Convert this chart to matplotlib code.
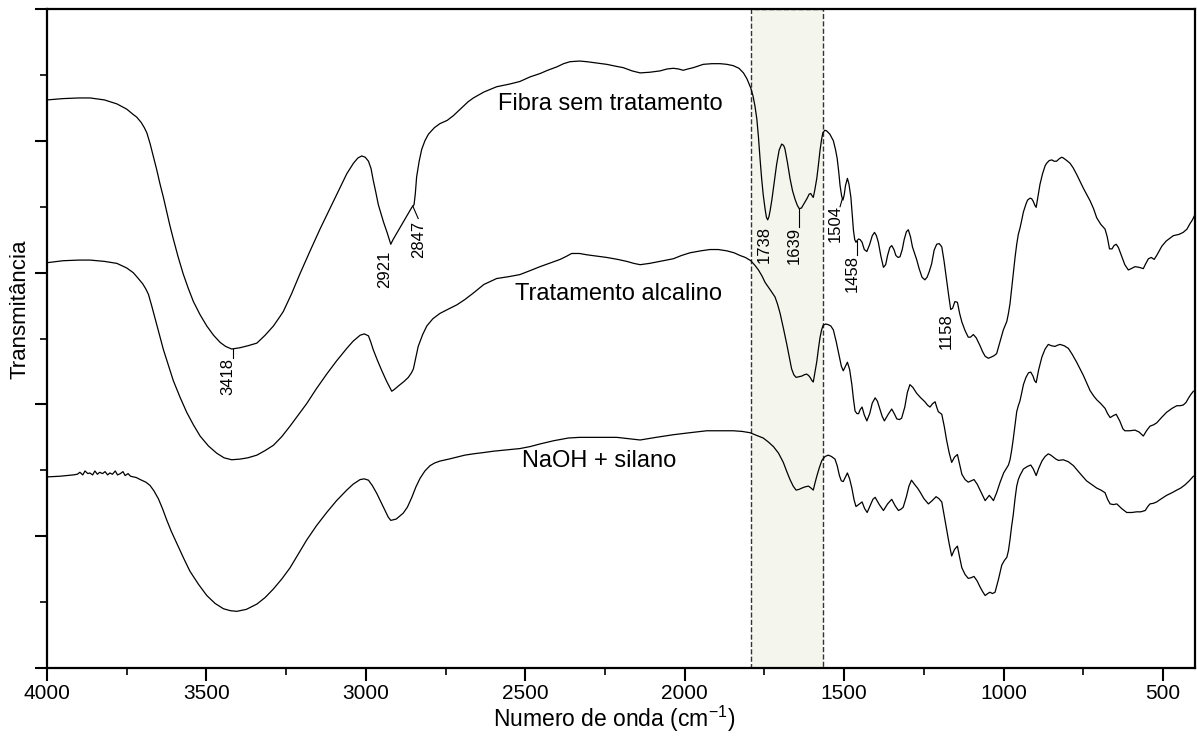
import matplotlib
matplotlib.use('Agg')

import matplotlib.pyplot as plt
from matplotlib.ticker import MultipleLocator, NullFormatter

plt.rcParams['font.family'] = ['Liberation Sans', 'DejaVu Sans']
plt.rcParams['mathtext.default'] = 'regular'

# Fibra sem tratamento (upper spectrum): wavenumber, transmittance (arb. units)
wn_fibra = [4000, 3950, 3900, 3865, 3820, 3781, 3750, 3730, 3719, 3705, 3695, 3687, 3677, 3667,
            3656, 3646, 3635, 3625, 3615, 3604, 3589, 3573, 3557, 3541, 3520, 3499, 3478, 3457,
            3440, 3421, 3395, 3370, 3342, 3316, 3290, 3270, 3259, 3233, 3207, 3175, 3144, 3112,
            3081, 3060, 3039, 3025, 3013, 3002, 2992, 2984, 2977, 2969, 2961, 2945, 2933, 2922,
            2915, 2909, 2893, 2872, 2856, 2849, 2845, 2841, 2833, 2825, 2815, 2804, 2785, 2768,
            2745, 2726, 2700, 2680, 2663, 2630, 2590, 2550, 2517, 2485, 2454, 2430, 2402, 2380,
            2360, 2330, 2307, 2275, 2245, 2215, 2193, 2165, 2140, 2110, 2078, 2055, 2036, 2020,
            2005, 1990, 1973, 1955, 1942, 1915, 1889, 1868, 1848, 1830, 1816, 1805, 1793, 1786,
            1780, 1774, 1769, 1764, 1759, 1754, 1748, 1744, 1740, 1736, 1732, 1727, 1720, 1712,
            1704, 1696, 1690, 1686, 1678, 1670, 1662, 1654, 1647, 1641, 1634, 1628, 1622, 1616,
            1610, 1605, 1600, 1597, 1592, 1586, 1581, 1576, 1571, 1567, 1561, 1555, 1545, 1534,
            1527, 1522, 1517, 1513, 1508, 1504, 1500, 1496, 1490, 1485, 1479, 1475, 1471, 1467,
            1463, 1459, 1455, 1450, 1444, 1437, 1429, 1420, 1412, 1405, 1399, 1393, 1385, 1377,
            1370, 1364, 1357, 1351, 1344, 1338, 1331, 1325, 1318, 1312, 1305, 1299, 1292, 1286,
            1279, 1273, 1265, 1256, 1247, 1240, 1233, 1226, 1218, 1210, 1202, 1194, 1187, 1179,
            1172, 1166, 1160, 1153, 1145, 1138, 1131, 1121, 1111, 1104, 1095, 1086, 1074, 1066,
            1058, 1048, 1038, 1030, 1022, 1012, 1001, 995, 990, 985, 980, 975, 970, 964, 959,
            954, 949, 944, 938, 930, 925, 917, 912, 907, 902, 898, 892, 886, 878, 870, 865, 857,
            849, 842, 834, 825, 818, 813, 802, 792, 782, 771, 760, 750, 740, 729, 718, 708, 695,
            682, 675, 668, 660, 654, 647, 640, 630, 620, 609, 600, 588, 575, 562, 555, 546, 537,
            528, 520, 504, 490, 468, 450, 437, 425, 416, 408, 400]
t_fibra = [86.2, 86.4, 86.5, 86.5, 86.2, 85.6, 84.8, 84.0, 83.6, 82.8, 82.0, 81.2, 79.6, 77.7,
           75.6, 73.5, 71.4, 69.3, 67.2, 65.1, 62.4, 59.8, 57.6, 55.6, 53.6, 51.9, 50.5, 49.4,
           48.8, 48.4, 48.6, 48.9, 49.3, 50.5, 51.9, 53.3, 54.1, 56.8, 59.8, 63.3, 66.6, 69.8,
           72.9, 75.0, 76.6, 77.4, 77.7, 77.5, 76.9, 75.8, 74.0, 72.2, 70.3, 67.7, 66.0, 64.3,
           65.0, 65.5, 66.8, 68.6, 69.9, 70.3, 72.0, 74.5, 76.9, 78.7, 80.0, 81.0, 82.0, 82.6,
           83.1, 83.8, 85.0, 85.9, 86.5, 87.4, 88.2, 88.6, 89.0, 89.7, 90.2, 90.7, 91.2, 91.7,
           92.0, 92.1, 92.0, 91.8, 91.6, 91.3, 91.1, 90.6, 90.3, 90.4, 90.6, 90.9, 91.0, 90.9,
           90.7, 90.9, 91.1, 91.4, 91.6, 91.7, 91.7, 91.6, 91.4, 91.0, 90.3, 89.4, 88.0, 86.8,
           85.3, 83.3, 80.6, 77.3, 74.3, 71.8, 69.6, 68.4, 68.0, 68.5, 69.5, 71.0, 73.5, 76.4,
           78.6, 79.5, 79.3, 78.8, 76.7, 74.3, 72.4, 71.1, 70.2, 69.7, 69.8, 70.3, 70.8, 71.3,
           71.9, 72.0, 71.6, 71.4, 72.6, 74.3, 76.3, 78.5, 80.2, 81.2, 81.6, 81.5, 81.0, 80.0,
           78.6, 77.3, 75.2, 73.2, 71.6, 71.0, 71.8, 73.2, 74.3, 73.4, 71.4, 68.8, 66.4, 65.0,
           64.6, 64.9, 65.1, 65.0, 64.6, 63.5, 63.2, 64.3, 65.6, 66.1, 65.6, 64.6, 62.5, 60.8,
           61.2, 62.6, 63.8, 64.1, 63.5, 62.6, 62.3, 62.4, 63.5, 65.0, 66.2, 66.5, 65.4, 63.9,
           62.9, 62.0, 60.6, 59.3, 58.9, 59.3, 60.2, 61.3, 63.4, 64.3, 64.4, 63.9, 61.8, 58.9,
           56.4, 54.4, 54.6, 55.6, 55.5, 53.8, 52.5, 51.2, 50.2, 50.2, 50.6, 50.1, 48.9, 48.0,
           47.3, 47.0, 47.2, 47.4, 47.7, 49.4, 51.3, 52.0, 52.6, 53.8, 55.3, 57.5, 59.6, 62.4,
           64.3, 65.8, 66.7, 67.8, 69.2, 70.4, 71.0, 71.3, 71.2, 70.8, 70.2, 69.9, 71.7, 73.4,
           75.0, 76.2, 76.6, 77.0, 77.1, 76.9, 76.9, 77.3, 77.5, 77.4, 77.0, 76.6, 75.9, 74.9,
           73.8, 72.8, 71.9, 70.9, 69.7, 68.3, 67.3, 66.6, 65.4, 63.6, 63.6, 64.1, 64.3, 63.8,
           62.5, 61.2, 60.4, 60.6, 60.9, 60.8, 60.6, 61.3, 62.1, 62.3, 62.0, 62.6, 64.0, 64.8,
           65.6, 65.8, 66.1, 66.6, 67.4, 68.0, 68.8]

# Tratamento alcalino (middle spectrum)
wn_alcalino = [4000, 3950, 3900, 3865, 3820, 3781, 3750, 3730, 3719, 3700, 3690, 3682, 3672, 3661,
               3648, 3635, 3620, 3604, 3583, 3562, 3541, 3520, 3494, 3468, 3445, 3421, 3395, 3370,
               3342, 3316, 3290, 3264, 3238, 3212, 3186, 3155, 3123, 3092, 3060, 3040, 3018, 3005,
               2992, 2985, 2977, 2964, 2950, 2935, 2919, 2910, 2898, 2880, 2867, 2857, 2851, 2844,
               2836, 2822, 2809, 2790, 2768, 2740, 2715, 2690, 2663, 2630, 2590, 2550, 2517, 2485,
               2454, 2420, 2391, 2370, 2355, 2330, 2307, 2275, 2245, 2210, 2182, 2160, 2140, 2110,
               2078, 2055, 2036, 2010, 1984, 1950, 1921, 1895, 1868, 1845, 1827, 1810, 1793, 1780,
               1769, 1758, 1748, 1738, 1728, 1717, 1709, 1701, 1690, 1680, 1672, 1665, 1658, 1651,
               1642, 1633, 1625, 1618, 1612, 1607, 1601, 1597, 1592, 1586, 1581, 1576, 1571, 1566,
               1558, 1550, 1542, 1534, 1525, 1515, 1509, 1503, 1497, 1490, 1483, 1476, 1471, 1466,
               1460, 1455, 1450, 1444, 1437, 1429, 1420, 1412, 1403, 1396, 1388, 1381, 1374, 1362,
               1351, 1343, 1335, 1327, 1320, 1310, 1302, 1294, 1285, 1273, 1260, 1247, 1239, 1231,
               1223, 1215, 1210, 1205, 1194, 1186, 1179, 1171, 1163, 1154, 1145, 1138, 1131, 1121,
               1111, 1102, 1093, 1083, 1074, 1066, 1058, 1050, 1045, 1038, 1032, 1022, 1011, 1000,
               990, 985, 980, 975, 970, 964, 959, 954, 949, 944, 938, 930, 922, 915, 908, 903, 898,
               890, 880, 870, 860, 850, 839, 830, 823, 810, 797, 785, 771, 750, 729, 718, 708, 695,
               682, 674, 666, 656, 647, 636, 626, 620, 605, 588, 575, 562, 552, 541, 530, 520, 505,
               489, 472, 457, 447, 437, 428, 421, 413, 405]
t_alcalino = [61.5, 61.8, 61.9, 61.9, 61.7, 61.4, 60.7, 60.0, 59.4, 58.3, 57.5, 56.7, 55.0, 53.0,
              50.6, 48.3, 46.0, 43.6, 41.1, 38.8, 36.9, 35.2, 33.7, 32.6, 31.9, 31.6, 31.7, 31.9,
              32.3, 33.0, 33.8, 35.1, 36.7, 38.4, 40.1, 42.4, 44.6, 46.6, 48.5, 49.6, 50.5, 50.7,
              50.4, 49.5, 48.3, 46.7, 45.1, 43.5, 42.0, 42.3, 42.8, 43.5, 44.1, 44.8, 45.4, 47.0,
              48.8, 50.6, 51.9, 53.0, 53.8, 54.5, 55.1, 55.9, 56.9, 58.2, 59.1, 59.4, 59.7, 60.3,
              60.9, 61.5, 62.0, 62.5, 62.9, 62.9, 62.7, 62.5, 62.3, 62.0, 61.7, 61.4, 61.2, 61.4,
              61.7, 61.9, 62.1, 62.6, 63.0, 63.3, 63.5, 63.5, 63.3, 63.0, 62.6, 62.3, 61.8, 61.1,
              60.4, 59.5, 58.5, 57.8, 57.1, 56.3, 55.2, 53.8, 51.4, 49.1, 47.1, 45.4, 44.5, 44.1,
              44.2, 44.3, 44.5, 44.6, 44.4, 44.1, 43.6, 43.4, 44.8, 46.5, 48.4, 50.1, 51.3, 52.0,
              52.2, 52.1, 51.9, 51.3, 49.5, 47.2, 45.8, 45.1, 45.7, 46.4, 45.3, 43.0, 40.8, 39.0,
              38.6, 38.6, 39.2, 39.6, 38.4, 37.5, 38.6, 40.2, 41.0, 40.5, 39.3, 38.2, 37.5, 38.5,
              39.3, 38.6, 37.8, 37.7, 37.9, 39.6, 41.8, 43.0, 42.6, 41.7, 41.0, 40.4, 39.9, 39.6,
              40.1, 40.4, 39.6, 38.9, 38.5, 36.6, 34.6, 32.7, 31.2, 32.0, 32.4, 30.9, 29.4, 28.6,
              28.2, 28.4, 28.6, 27.9, 27.0, 26.2, 25.4, 25.9, 26.2, 25.8, 25.4, 26.6, 28.2, 29.6,
              30.4, 30.8, 31.6, 33.0, 34.7, 37.0, 38.9, 39.8, 40.5, 41.6, 43.0, 44.1, 44.8, 44.9,
              44.3, 43.6, 43.3, 45.3, 47.2, 48.4, 49.1, 48.9, 48.8, 49.0, 49.1, 48.9, 48.5, 47.6,
              46.4, 44.4, 42.1, 41.3, 40.7, 40.1, 39.4, 38.6, 38.0, 38.3, 38.5, 37.5, 36.3, 36.0,
              36.0, 36.1, 35.8, 35.2, 36.0, 36.7, 36.9, 37.2, 38.0, 38.8, 39.4, 39.8, 39.8, 39.9,
              40.3, 40.9, 41.5, 42.0]

# NaOH + silano (lower spectrum)
wn_silano = [4000, 3960, 3918, 3905, 3897, 3888, 3881, 3872, 3866, 3857, 3850, 3842, 3835, 3826,
             3818, 3810, 3803, 3795, 3786, 3779, 3770, 3762, 3755, 3746, 3738, 3720, 3708, 3690,
             3677, 3665, 3651, 3638, 3625, 3610, 3593, 3572, 3552, 3525, 3499, 3473, 3447, 3425,
             3405, 3375, 3342, 3316, 3290, 3264, 3238, 3212, 3186, 3155, 3123, 3092, 3060, 3040,
             3018, 3005, 2992, 2980, 2966, 2953, 2940, 2930, 2922, 2905, 2883, 2870, 2856, 2843,
             2830, 2815, 2799, 2785, 2768, 2740, 2715, 2690, 2663, 2630, 2600, 2560, 2517, 2485,
             2454, 2410, 2365, 2330, 2297, 2250, 2213, 2175, 2140, 2090, 2036, 1985, 1931, 1890,
             1848, 1820, 1795, 1775, 1754, 1738, 1722, 1706, 1691, 1680, 1670, 1660, 1651, 1642,
             1633, 1622, 1612, 1604, 1597, 1592, 1586, 1578, 1570, 1560, 1550, 1540, 1529, 1522,
             1515, 1509, 1503, 1497, 1490, 1483, 1476, 1469, 1463, 1455, 1444, 1436, 1428, 1418,
             1410, 1403, 1390, 1377, 1364, 1351, 1340, 1330, 1322, 1315, 1305, 1297, 1289, 1280,
             1270, 1262, 1250, 1236, 1224, 1212, 1203, 1194, 1187, 1179, 1171, 1163, 1154, 1145,
             1138, 1131, 1121, 1111, 1102, 1093, 1083, 1074, 1066, 1058, 1050, 1043, 1035, 1027,
             1016, 1006, 998, 990, 985, 980, 975, 970, 964, 959, 954, 949, 938, 925, 915, 907,
             898, 890, 880, 870, 860, 852, 844, 836, 828, 813, 797, 781, 760, 740, 720, 708, 695,
             682, 674, 666, 656, 645, 630, 614, 598, 583, 570, 556, 548, 541, 530, 520, 505, 489,
             472, 457, 445, 431, 418, 405]
t_silano = [29.0, 29.1, 29.3, 29.4, 29.7, 29.3, 29.9, 29.5, 29.6, 29.3, 29.9, 29.4, 29.7, 29.5,
            29.8, 29.3, 29.6, 29.4, 29.9, 29.3, 29.5, 29.8, 29.2, 29.5, 29.1, 28.9, 28.6, 28.2,
            27.7, 26.9, 25.7, 24.2, 22.5, 20.7, 18.9, 16.7, 14.7, 12.7, 11.0, 9.8, 9.0, 8.7,
            8.6, 8.9, 9.7, 10.7, 12.0, 13.5, 15.2, 17.3, 19.4, 21.6, 23.6, 25.4, 27.0, 27.9,
            28.6, 28.7, 28.5, 27.7, 26.5, 25.2, 23.9, 22.9, 22.4, 22.6, 23.5, 24.4, 25.9, 27.5,
            28.8, 29.9, 30.7, 31.1, 31.4, 31.7, 32.0, 32.3, 32.5, 32.7, 32.9, 33.1, 33.3, 33.6,
            34.0, 34.5, 34.9, 35.0, 35.0, 35.0, 35.0, 34.8, 34.6, 35.0, 35.4, 35.7, 36.0, 36.0,
            36.0, 35.9, 35.7, 35.3, 34.9, 34.3, 33.6, 32.6, 31.2, 29.8, 28.6, 27.6, 27.0, 27.1,
            27.3, 27.5, 27.6, 27.3, 27.0, 28.0, 29.1, 30.4, 31.5, 32.1, 32.3, 32.1, 31.7, 30.7,
            29.2, 28.4, 28.3, 28.9, 29.6, 28.7, 27.3, 25.5, 24.5, 24.8, 25.2, 24.2, 23.6, 24.7,
            25.6, 25.9, 24.8, 23.9, 24.9, 25.6, 24.6, 23.9, 24.1, 24.4, 26.0, 27.6, 28.5, 27.9,
            27.3, 26.7, 25.7, 24.9, 25.4, 26.0, 25.7, 25.2, 23.3, 21.1, 18.9, 17.0, 18.0, 18.5,
            16.8, 15.2, 14.2, 13.6, 13.7, 13.9, 13.2, 12.3, 11.6, 11.0, 11.3, 11.5, 11.3, 11.5,
            13.5, 15.6, 16.3, 16.8, 17.8, 19.5, 21.5, 23.2, 25.8, 27.6, 28.6, 29.2, 30.2, 30.6,
            30.8, 30.2, 29.2, 30.3, 31.4, 32.1, 32.5, 32.3, 32.0, 31.7, 31.5, 31.6, 31.3, 30.7,
            29.5, 28.4, 27.7, 27.3, 27.0, 26.6, 25.6, 24.9, 24.8, 24.9, 24.2, 23.6, 23.6, 23.7,
            23.7, 23.9, 24.5, 24.9, 25.0, 25.2, 25.7, 26.2, 26.6, 27.0, 27.3, 27.8, 28.4, 29.1]

# band labels: text, line start (on curve), line end, text position (top of rotated text)
band_labels = ['3418', '2921', '2847', '1738', '1639', '1504', '1458', '1158']
line_from = [(3418, 48.4), None, (2853, 70.1), None, (1641, 69.7), (1506, 71.2), (1461, 64.8), None]
line_to = [(3418, 47.0), None, (2836, 68.2), None, (1641, 66.9), (1513, 70.0), (1461, 62.6), None]
text_wn = [3434, 2940, 2836, 1752, 1656, 1529, 1476, 1181]
text_top = [47.0, 63.3, 67.8, 67.0, 66.9, 70.2, 62.6, 53.8]

series_names = ['Fibra sem tratamento', 'Tratamento alcalino', 'NaOH + silano']
name_wn = [2234, 2209, 2269]
name_t = [85.6, 56.8, 31.4]

band_region = (1793, 1567)

fig = plt.figure(figsize=(11.97, 7.42), dpi=100)
ax = fig.add_axes([0.0393, 0.0997, 0.959, 0.8882])

ax.axvspan(band_region[0], band_region[1], facecolor='#f4f5ec', edgecolor='#333333',
           linestyle='--', linewidth=1.0, zorder=0)

for wn, t in [(wn_fibra, t_fibra), (wn_alcalino, t_alcalino), (wn_silano, t_silano)]:
    ax.plot(wn, t, color='black', linewidth=0.9)

for lab, p0, p1, tw, tt in zip(band_labels, line_from, line_to, text_wn, text_top):
    if p0 is not None:
        ax.plot([p0[0], p1[0]], [p0[1], p1[1]], color='black', linewidth=0.8)
    ax.text(tw, tt, lab, rotation=90, ha='center', va='top', fontsize=12)

for name, x, y in zip(series_names, name_wn, name_t):
    ax.text(x, y, name, ha='center', va='center', fontsize=17)

ax.set_xlim(4000, 400)
ax.set_ylim(0, 100)
ax.xaxis.set_major_locator(MultipleLocator(500))
ax.xaxis.set_minor_locator(MultipleLocator(250))
ax.yaxis.set_major_locator(MultipleLocator(20))
ax.yaxis.set_minor_locator(MultipleLocator(10))
ax.yaxis.set_major_formatter(NullFormatter())
ax.tick_params(which='major', direction='out', length=9, width=1.5, labelsize=15, pad=2.5)
ax.tick_params(which='minor', direction='out', length=5, width=1.2)
for sp in ax.spines.values():
    sp.set_linewidth(1.6)

fig.text(0.513, 0.021, 'Numero de onda (cm$^{-1}$)', ha='center', va='baseline', fontsize=16.5)
fig.text(0.017, 0.5836, 'Transmitância', rotation=90, ha='center', va='center', fontsize=16)

fig.savefig('out.png', dpi=100)
